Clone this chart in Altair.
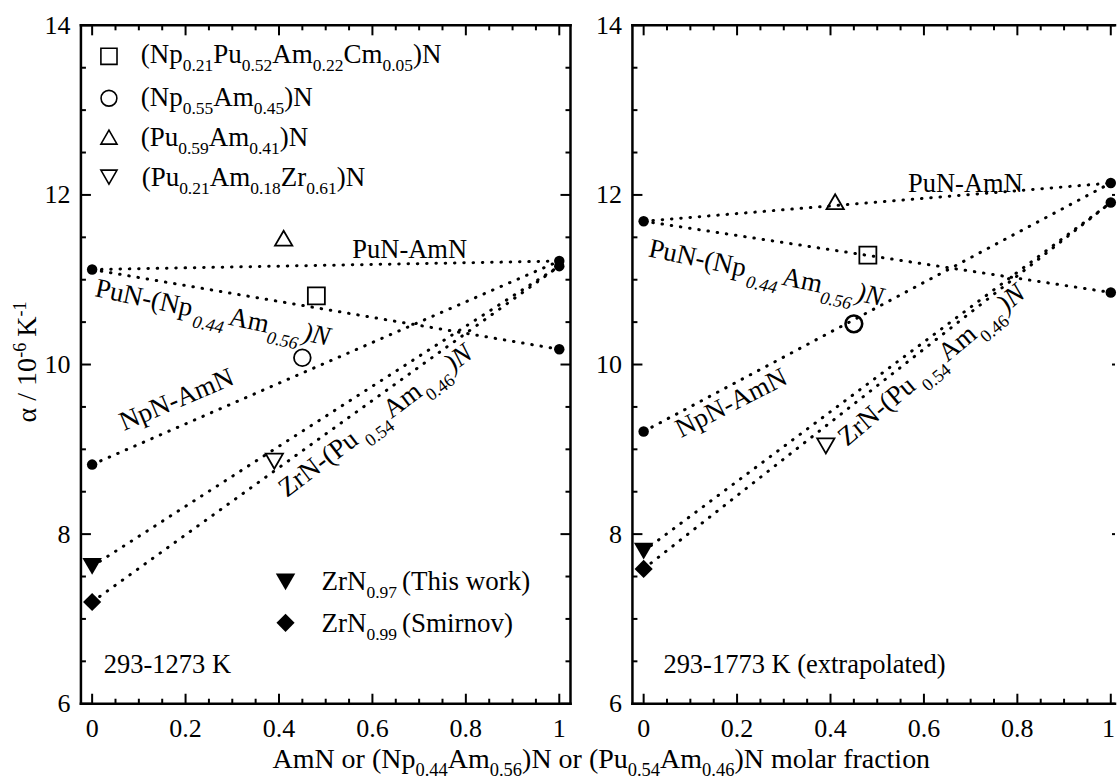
import math
import altair as alt
import pandas as pd

# ---------------- data ----------------
line_names = ["PuN-AmN", "PuN-(Np0.44Am0.56)N", "NpN-AmN",
              "ZrN0.97-(Pu0.54Am0.46)N", "ZrN0.99-(Pu0.54Am0.46)N"]
line_x = [0.0, 1.0]
left_start = [11.12, 11.12, 8.82, 7.62, 7.20]
left_end = [11.22, 10.18, 11.22, 11.16, 11.16]
right_start = [11.69, 11.69, 9.21, 7.80, 7.59]
right_end = [12.14, 10.85, 12.14, 11.91, 11.91]

zrn_names = ["ZrN0.97 (This work)", "ZrN0.99 (Smirnov)"]
zrn_shapes = ["triangle-down", "diamond"]
zrn_sizes = [380, 330]

mix_names = ["(Np0.21Pu0.52Am0.22Cm0.05)N", "(Np0.55Am0.45)N",
             "(Pu0.59Am0.41)N", "(Pu0.21Am0.18Zr0.61)N"]
mix_shapes = ["square", "circle", "triangle-up", "triangle-down"]
mix_sizes = [290, 280, 300, 300]
mix_x = [0.48, 0.45, 0.41, 0.39]
left_mix_y = [10.81, 10.08, 11.49, 8.86]
right_mix_y = [11.29, 10.48, 11.92, 9.04]

x_ticks = [0, 0.2, 0.4, 0.6, 0.8, 1]
y_ticks = [6, 8, 10, 12, 14]
x_minor = [0.05, 0.1, 0.15, 0.25, 0.3, 0.35, 0.45, 0.5, 0.55, 0.65, 0.7, 0.75,
           0.85, 0.9, 0.95]
y_minor = [6.5, 7, 7.5, 8.5, 9, 9.5, 10.5, 11, 11.5, 12.5, 13, 13.5]

# ---------------- layout constants ----------------
FONT = "Liberation Serif"
PH = 679
FULL_XDOM = [-0.024, 1.024]          # full frame of each panel
PXX = 490 / (FULL_XDOM[1] - FULL_XDOM[0])
YDOM = [6, 14]
PXY = PH / (YDOM[1] - YDOM[0])
RIGHT_VISIBLE = 483                  # the right panel runs past the picture edge
XDOM_L = FULL_XDOM
XDOM_R = [FULL_XDOM[0], FULL_XDOM[0] + RIGHT_VISIBLE / PXX]
MAJOR_LEN, MINOR_LEN, TICK_W = 10, 5, 2.0

ys = alt.Scale(domain=YDOM, nice=False, zero=False)

W_ROMAN = {' ': 250, '(': 333, ')': 333, '-': 333, '.': 250, '/': 278,
           'A': 722, 'C': 667, 'K': 722, 'N': 722, 'P': 556, 'S': 556,
           'T': 611, 'Z': 611, 'a': 444, 'c': 444, 'd': 500, 'e': 444,
           'f': 333, 'h': 500, 'i': 278, 'k': 500, 'l': 278, 'm': 778,
           'n': 500, 'o': 500, 'p': 500, 'r': 333, 's': 389, 't': 278,
           'u': 500, 'v': 500, 'w': 722, 'x': 500, 'α': 540}
W_ITAL = {' ': 250, '(': 333, ')': 333, '-': 333, '.': 250, 'A': 611,
          'N': 667, 'P': 611, 'Z': 556, 'm': 722, 'p': 500, 'r': 389, 'u': 500}


def tw(s, size, ital=False):
    tab = W_ITAL if ital else W_ROMAN
    tot = 0
    for c in s:
        if c.isdigit():
            tot += 500
        else:
            tot += tab.get(c, W_ROMAN.get(c, 500))
    return tot * size / 1000.0


def rich(segs, x0, y0, angle=0, main=26, sub=17, sh_sub=8, sh_sup=10, center=False):
    th = math.radians(angle)
    ux, uy = math.cos(th), math.sin(th)
    nx, ny = -math.sin(th), math.cos(th)
    items = []
    adv = 0.0
    for seg in segs:
        text, kind = seg[0], seg[1]
        ital = seg[2] if len(seg) > 2 else False
        gap = seg[3] if len(seg) > 3 else 0
        adv += gap
        size = main if kind == 'n' else sub
        off = {'n': 0, 's': sh_sub, 'S': -sh_sup}[kind]
        items.append((text, size, ital, adv, off))
        adv += tw(text, size, ital)
    start = -adv / 2 if center else 0
    rows = []
    for text, size, ital, a, off in items:
        a += start
        px = a * ux + off * nx
        py = a * uy + off * ny
        rows.append(dict(x=x0 + px / PXX, y=y0 - py / PXY, text=text,
                         size=size, angle=angle % 360, italic=ital))
    return rows


def tick_labels(vis_hi):
    """Axis tick labels as text, left-aligned rows computed from their widths."""
    r = []
    base_y = YDOM[0] - 33 / PXY            # baseline of x tick labels
    for v in x_ticks:
        s = f"{v:g}"
        w = tw(s, 26)
        x_left = v - (w / 2) / PXX
        x_right = x_left + w / PXX
        if x_right > vis_hi:
            x_left = vis_hi - w / PXX
        r.append(dict(x=x_left, y=base_y, text=s, size=26, angle=0, italic=False))
    for v in y_ticks:
        s = f"{v:g}"
        w = tw(s, 26)
        r.append(dict(x=FULL_XDOM[0] - (10.5 + w) / PXX, y=v - 8.5 / PXY, text=s,
                      size=26, angle=0, italic=False))
    return r


PUNP = [("PuN-(Np", 'n'), ("0.44", 's', True, 3), ("Am", 'n', False, 3),
        ("0.56", 's', True, 1), (")N", 'n', True, 3)]
ZRPU = [("ZrN-(Pu", 'n'), ("0.54", 's', False, 6), ("Am", 'n', False, 2),
        ("0.46", 's', False, 2), (")N", 'n', True, 3)]
LAB = dict(main=27, sub=18, sh_sub=10)
LEG = dict(main=27, sub=17.5, sh_sub=8)


def left_texts():
    r = tick_labels(XDOM_L[1])
    r += rich([("PuN-AmN", 'n')], 0.557, 11.255, main=26.5)
    r += rich(PUNP, 0.004, 10.807, angle=12, **LAB)
    r += rich([("NpN-AmN", 'n')], 0.068, 9.216, angle=-23, main=27)
    r += rich(ZRPU, 0.4165, 8.427, angle=-37, **LAB)
    r += rich([("293-1273 K", 'n')], 0.025, 6.365, main=26.5)
    # legend text
    r += rich([("(Np", 'n'), ("0.21", 's'), ("Pu", 'n'), ("0.52", 's'), ("Am", 'n'),
               ("0.22", 's'), ("Cm", 'n'), ("0.05", 's'), (")N", 'n')], 0.104, 13.552, **LEG)
    r += rich([("(Np", 'n'), ("0.55", 's'), ("Am", 'n'), ("0.45", 's'), (")N", 'n')],
              0.104, 13.046, **LEG)
    r += rich([("(Pu", 'n'), ("0.59", 's'), ("Am", 'n'), ("0.41", 's'), (")N", 'n')],
              0.104, 12.574, **LEG)
    r += rich([("(Pu", 'n'), ("0.21", 's'), ("Am", 'n'), ("0.18", 's'), ("Zr", 'n'),
               ("0.61", 's'), (")N", 'n')], 0.106, 12.103, **LEG)
    r += rich([("ZrN", 'n'), ("0.97", 's'), ("(This work)", 'n', False, 5)], 0.491, 7.343, **LEG)
    r += rich([("ZrN", 'n'), ("0.99", 's'), ("(Smirnov)", 'n', False, 5)], 0.491, 6.848, **LEG)
    # axis titles
    r += rich([("α / 10", 'n'), ("-6", 'S'), ("K", 'n', False, 6), ("-1", 'S')],
              -0.1202, 10.03, angle=-90, main=28, sub=18, center=True)
    r += rich([("AmN or (Np", 'n'), ("0.44", 's'), ("Am", 'n'), ("0.56", 's'),
               (")N or (Pu", 'n'), ("0.54", 's'), ("Am", 'n'), ("0.46", 's'),
               (")N molar fraction", 'n')], 1.090, 5.24, main=28, sub=18.5, center=True)
    return r


def right_texts():
    r = tick_labels(XDOM_R[1])
    r += rich([("PuN-AmN", 'n')], 0.566, 12.032, main=26.5)
    r += rich(PUNP, 0.008, 11.278, angle=12, **LAB)
    r += rich([("NpN-AmN", 'n')], 0.080, 9.134, angle=-27, main=27)
    r += rich(ZRPU, 0.4354, 9.028, angle=-40, **LAB)
    r += rich([("293-1773 K (extrapolated)", 'n')], 0.0423, 6.365, main=26.5)
    return r


legend_open = pd.DataFrame({"x": [0.036] * 4, "y": [13.635, 13.140, 12.681, 12.210],
                            "shape": mix_shapes, "size": [260, 250, 260, 260]})
legend_filled = pd.DataFrame({"x": [0.414, 0.414], "y": [7.437, 6.954],
                              "shape": zrn_shapes, "size": zrn_sizes})


def frame_rows(dom):
    lo, hi = FULL_XDOM
    vis_hi = dom[1]
    frame = [dict(x=lo, x2=lo, y=YDOM[0], y2=YDOM[1]),
             dict(x=lo, x2=vis_hi, y=YDOM[0], y2=YDOM[0]),
             dict(x=lo, x2=vis_hi, y=YDOM[1], y2=YDOM[1])]
    if vis_hi >= hi:
        frame.append(dict(x=hi, x2=hi, y=YDOM[0], y2=YDOM[1]))
    return pd.DataFrame(frame)


def tick_rects(dom):
    """Inward ticks drawn as thin filled rectangles along each frame edge."""
    lo, hi = FULL_XDOM
    vis_hi = dom[1]
    hw_x = (TICK_W / 2) / PXX
    hw_y = (TICK_W / 2) / PXY
    rows = []
    for vals, L in [(x_ticks, MAJOR_LEN), (x_minor, MINOR_LEN)]:
        d = L / PXY
        for v in vals:
            rows.append(dict(x=v - hw_x, x2=v + hw_x, y=YDOM[0], y2=YDOM[0] + d))
            rows.append(dict(x=v - hw_x, x2=v + hw_x, y=YDOM[1] - d, y2=YDOM[1]))
    for vals, L in [(y_ticks, MAJOR_LEN), (y_minor, MINOR_LEN)]:
        d = L / PXX
        for v in vals:
            rows.append(dict(x=lo, x2=lo + d, y=v - hw_y, y2=v + hw_y))
            if hi - d < vis_hi:
                rows.append(dict(x=hi - d, x2=min(hi, vis_hi), y=v - hw_y, y2=v + hw_y))
    return pd.DataFrame(rows)


def panel(dom, start, end, mix_y, texts, with_legend, circle_w):
    xs = alt.Scale(domain=dom, nice=False, zero=False)

    def X():
        return alt.X("x:Q", scale=xs, axis=None)

    def Y():
        return alt.Y("y:Q", scale=ys, axis=None)

    rows = []
    for name, s, e in zip(line_names, start, end):
        rows.append({"line": name, "x": line_x[0], "y": s})
        rows.append({"line": name, "x": line_x[1], "y": e})
    df_lines = pd.DataFrame(rows)

    circ = {(0.0, start[0]), (0.0, start[2])} | {(1.0, v) for v in end}
    df_circ = pd.DataFrame(sorted(circ), columns=["x", "y"])
    df_zrn = pd.DataFrame({"name": zrn_names, "x": [0.0, 0.0], "y": [start[3], start[4]],
                           "shape": zrn_shapes, "size": zrn_sizes})
    df_mix = pd.DataFrame({"name": mix_names, "x": mix_x, "y": mix_y,
                           "shape": mix_shapes, "size": mix_sizes,
                           "sw": [1.8, circle_w, 1.8, 1.8]})

    layers = []
    layers.append(alt.Chart(tick_rects(dom)).mark_rect(
        color="black", opacity=1, strokeWidth=0).encode(
        x=X(), x2="x2:Q", y=Y(), y2="y2:Q"))
    layers.append(alt.Chart(df_lines).mark_line(
        color="black", strokeWidth=3, strokeDash=[0.5, 8.8], strokeCap="round").encode(
        x=X(), y=Y(), detail="line:N"))
    layers.append(alt.Chart(df_circ).mark_point(
        shape="circle", filled=True, color="black", opacity=1, size=110).encode(x=X(), y=Y()))
    layers.append(alt.Chart(df_zrn).mark_point(filled=True, color="black", opacity=1).encode(
        x=X(), y=Y(), shape=alt.Shape("shape:N", scale=None, legend=None),
        size=alt.Size("size:Q", scale=None, legend=None)))
    layers.append(alt.Chart(df_mix).mark_point(
        filled=False, color="black", opacity=1).encode(
        x=X(), y=Y(), shape=alt.Shape("shape:N", scale=None, legend=None),
        size=alt.Size("size:Q", scale=None, legend=None),
        strokeWidth=alt.StrokeWidth("sw:Q", scale=None, legend=None)))
    if with_legend:
        layers.append(alt.Chart(legend_open).mark_point(
            filled=False, color="black", opacity=1, strokeWidth=1.6).encode(
            x=X(), y=Y(), shape=alt.Shape("shape:N", scale=None, legend=None),
            size=alt.Size("size:Q", scale=None, legend=None)))
        layers.append(alt.Chart(legend_filled).mark_point(
            filled=True, color="black", opacity=1).encode(
            x=X(), y=Y(), shape=alt.Shape("shape:N", scale=None, legend=None),
            size=alt.Size("size:Q", scale=None, legend=None)))

    df_t = pd.DataFrame(texts)
    for ital in (False, True):
        sub = df_t[df_t["italic"] == ital]
        if len(sub) == 0:
            continue
        layers.append(alt.Chart(sub).mark_text(
            align="left", baseline="alphabetic", font=FONT, color="black",
            fontStyle="italic" if ital else "normal").encode(
            x=X(), y=Y(), text="text:N",
            size=alt.Size("size:Q", scale=None, legend=None),
            angle=alt.Angle("angle:Q", scale=None)))

    layers.append(alt.Chart(frame_rows(dom)).mark_rule(
        color="black", strokeWidth=2.5, strokeCap="square").encode(
        x=X(), x2="x2:Q", y=Y(), y2="y2:Q"))

    width = round((dom[1] - dom[0]) * PXX)
    return alt.layer(*layers).properties(width=width, height=PH)


left = panel(XDOM_L, left_start, left_end, left_mix_y, left_texts(), True, 1.8)
right = panel(XDOM_R, right_start, right_end, right_mix_y, right_texts(), False, 2.6)

chart = alt.hconcat(left, right, spacing=62, bounds="flush").configure_view(
    strokeWidth=0, stroke="white").properties(
    padding={"left": 12, "top": 12, "right": 0, "bottom": 0}, background="white")

chart.save("out.html", embed_options={"renderer": "svg", "actions": False})
